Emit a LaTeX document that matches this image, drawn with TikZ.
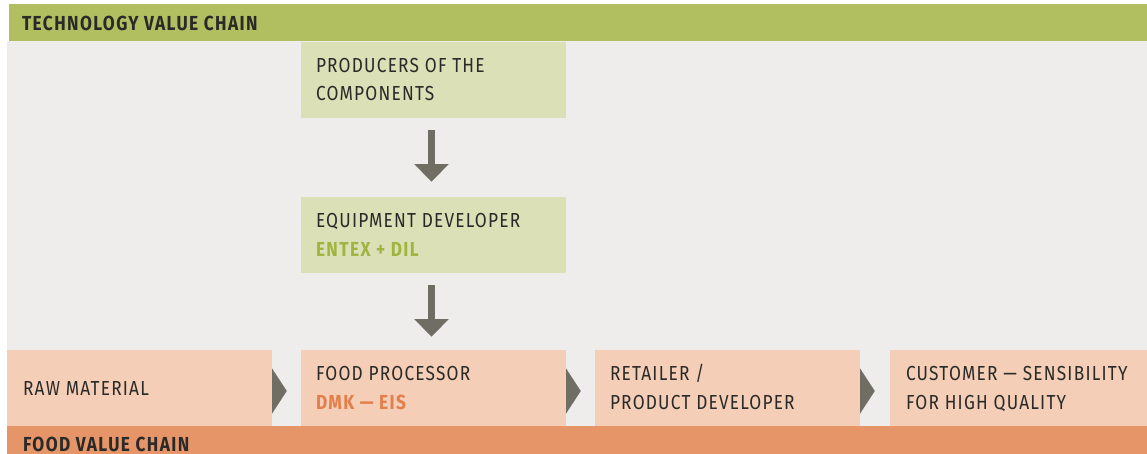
\documentclass[tikz,border=0pt]{standalone}
\usepackage{fontspec}
\setmainfont{Fira Sans}[LetterSpace=6,FakeStretch=0.85]
\usetikzlibrary{arrows.meta}

\definecolor{barGreen}{HTML}{B2BF60}
\definecolor{boxGreen}{HTML}{DBE0B7}
\definecolor{bgGray}{HTML}{EEEDEB}
\definecolor{boxOrange}{HTML}{F4CEB6}
\definecolor{barOrange}{HTML}{E69568}
\definecolor{arrowGray}{HTML}{6F6D64}
\definecolor{textGreen}{HTML}{9FB540}
\definecolor{textOrange}{HTML}{E27F4C}
\definecolor{ink}{HTML}{2A2A28}

\newcommand{\strongtext}{\bfseries\addfontfeatures{LetterSpace=7}}

\begin{document}
\begin{tikzpicture}[x=1pt,y=-1pt,
  panel/.style={rectangle, inner sep=0pt, outer sep=0pt, anchor=north west,
                minimum width=265pt, minimum height=76pt},
  label/.style={anchor=base west, inner sep=0pt, outer sep=0pt, text=ink,
                font=\fontsize{20.3}{29}\selectfont},
  title/.style={label, font=\fontsize{20.3}{29}\selectfont\strongtext},
  downarrow/.style={draw=arrowGray, line width=6.4pt,
                    -{Triangle[width=33.3pt,length=17.5pt]}},
  chevron/.style={draw=arrowGray, line width=0.1pt,
                  -{Triangle[width=45pt,length=14.7pt]}}
]
\useasboundingbox (0,0) rectangle (1147,454);
\fill[white] (0,0) rectangle (1147,454);
\fill[bgGray] (7,41) rectangle (1147,426);

% chain bars
\node[panel, fill=barGreen, minimum width=1138pt, minimum height=37.3pt] (techbar) at (9,4) {};
\node[panel, fill=barOrange, minimum width=1140pt, minimum height=28pt] (foodbar) at (7,426) {};
\node[title] (techtitle) at (22,30.7) {TECHNOLOGY VALUE CHAIN};
\node[title] (foodtitle) at (23,451) {FOOD VALUE CHAIN};

% technology chain
\node[panel, fill=boxGreen] (prod) at (301,41.7) {};
\node[panel, fill=boxGreen, minimum height=75.7pt] (equip) at (301,197.3) {};

% food chain
\node[panel, fill=boxOrange] (raw) at (7,350) {};
\node[panel, fill=boxOrange] (food) at (301,350) {};
\node[panel, fill=boxOrange] (retail) at (595,350) {};
\node[panel, fill=boxOrange, minimum width=257pt] (cust) at (890,350) {};

% panel texts
\node[label] (prodA) at ([shift={(15,30.6)}]prod.north west) {PRODUCERS OF THE};
\node[label] (prodB) at ([shift={(15,59.3)}]prod.north west) {COMPONENTS};
\node[label] (equipA) at ([shift={(15,30)}]equip.north west) {EQUIPMENT DEVELOPER};
\node[title, text=textGreen] (equipB)
  at ([shift={(15,59.4)}]equip.north west) {ENTEX + DIL};
\node[label] (rawA) at ([shift={(16,45.7)}]raw.north west) {RAW MATERIAL};
\node[label] (foodA) at ([shift={(15,30.2)}]food.north west) {FOOD PROCESSOR};
\node[title, text=textOrange] (foodB)
  at ([shift={(15,59.3)}]food.north west) {DMK --- EIS};
\node[label] (retailA) at ([shift={(15,30.3)}]retail.north west) {RETAILER /};
\node[label] (retailB) at ([shift={(15,59.3)}]retail.north west) {PRODUCT DEVELOPER};
\node[label] (custA) at ([shift={(16,30.5)}]cust.north west) {CUSTOMER --- SENSIBILITY};
\node[label] (custB) at ([shift={(16,59)}]cust.north west) {FOR HIGH QUALITY};

% connectors
\draw[downarrow, shorten <=12.3pt, shorten >=15.6pt]
  ([xshift=-2pt]prod.south) -- ([xshift=-2pt]equip.north);
\draw[downarrow, shorten <=12.3pt, shorten >=13.3pt]
  ([xshift=-2pt]equip.south) -- ([xshift=-2pt]food.north);
\draw[chevron, shorten >=14.3pt] ([yshift=-3pt]raw.east) -- ([yshift=-3pt]food.west);
\draw[chevron, shorten >=14.3pt] ([yshift=-3pt]food.east) -- ([yshift=-3pt]retail.west);
\draw[chevron, shorten >=15.3pt] ([yshift=-3pt]retail.east) -- ([yshift=-3pt]cust.west);
\end{tikzpicture}
\end{document}
